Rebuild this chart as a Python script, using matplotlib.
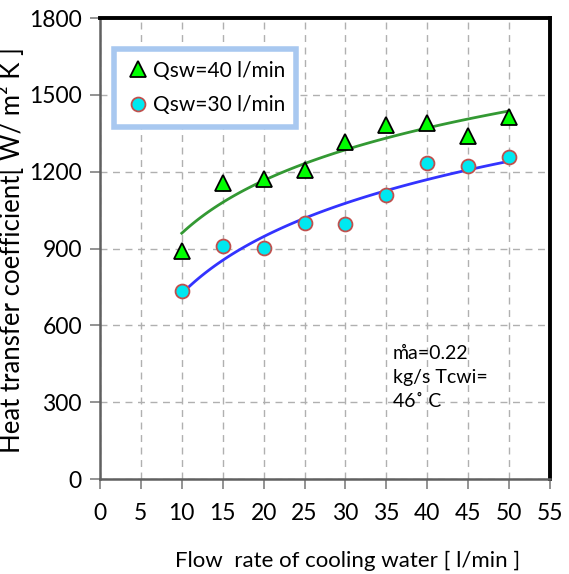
import numpy as np
import matplotlib.pyplot as plt

# flow rate of cooling water [l/min]
flow = [10, 15, 20, 25, 30, 35, 40, 45, 50]
# heat transfer coefficient, two sea-water flow rates
h_qsw40 = [892, 1155, 1170, 1206, 1316, 1384, 1392, 1340, 1412]
h_qsw30 = [734, 911, 903, 998, 996, 1109, 1233, 1222, 1256]

x_ticks = list(range(0, 56, 5))
y_ticks = list(range(0, 1801, 300))

plt.rcParams['font.family'] = ['Lato', 'DejaVu Sans']

fig = plt.figure(figsize=(5.69, 5.74), dpi=100)
ax = fig.add_axes([0.1757, 0.1655, 0.7909, 0.8031])

# log trendlines like the spreadsheet ones
xf = np.linspace(10, 50, 100)
for yy, col in [(h_qsw40, '#339933'), (h_qsw30, '#3333ff')]:
    b, a = np.polyfit(np.log(flow), yy, 1)
    ax.plot(xf, a + b * np.log(xf), color=col, lw=2, zorder=2)

ax.plot(flow, h_qsw40, linestyle='none', marker='^', ms=11, mfc='#00ff00',
        mec='black', mew=1.3, label='Qsw=40 l/min', zorder=3)
ax.plot(flow, h_qsw30, linestyle='none', marker='o', ms=10, mfc='#00e8f0',
        mec='#c0504d', mew=1.3, label='Qsw=30 l/min', zorder=3)

ax.set_xlim(0, 55)
ax.set_ylim(0, 1800)
ax.set_xticks(x_ticks)
ax.set_yticks(y_ticks)
ax.grid(True, color='#b0b0b0', linestyle=(0, (5, 4)), lw=1)
ax.tick_params(direction='out', length=7, color='#808080', labelsize=16.5,
               width=1.2, pad=6)
ax.tick_params(axis='x', pad=10)

for s in ['left', 'bottom']:
    ax.spines[s].set_color('#606060')
    ax.spines[s].set_linewidth(1.8)
for s in ['top', 'right']:
    ax.spines[s].set_color('black')
    ax.spines[s].set_linewidth(2.8)

ax.set_xlabel('Flow  rate of cooling water [ l/min ]', fontsize=16)
ax.xaxis.set_label_coords(0.55, -0.155)
ax.set_ylabel('Heat transfer coefficient[ W/ m² K ]', fontsize=18.5)
ax.yaxis.set_label_coords(-0.167, 0.497)

leg = ax.legend(loc='upper left', bbox_to_anchor=(0.008, 0.955), fontsize=15,
                handletextpad=0.1, labelspacing=0.7, borderpad=0.55,
                handlelength=1.2, fancybox=False, framealpha=1)
leg.get_frame().set_edgecolor('#a8c8f0')
leg.get_frame().set_linewidth(4)

ax.text(35.8, 522, 'm\u030aa=0.22\nkg/s Tcwi=\n46˚ C', fontsize=14,
        va='top', ha='left', linespacing=1.5)

fig.savefig('out.png', dpi=100)
